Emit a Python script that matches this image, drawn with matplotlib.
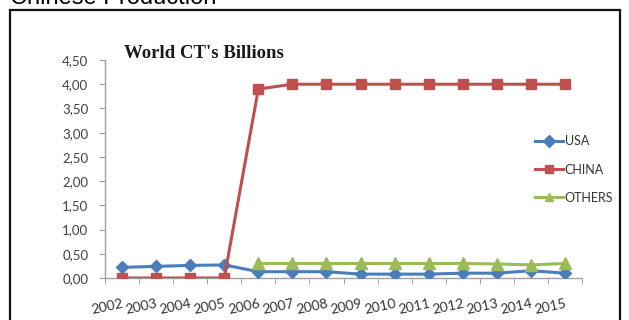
import numpy as np
import matplotlib
matplotlib.use("Agg")
import matplotlib.pyplot as plt
from matplotlib.patches import Rectangle
from matplotlib.ticker import FixedLocator, FuncFormatter

years = ["2002", "2003", "2004", "2005", "2006", "2007", "2008",
         "2009", "2010", "2011", "2012", "2013", "2014", "2015"]
usa = [0.22, 0.24, 0.26, 0.27, 0.13, 0.13, 0.13, 0.08, 0.08, 0.08, 0.10, 0.10, 0.15, 0.10]
china = [0.0, 0.0, 0.0, 0.0, 3.90, 4.00, 4.00, 4.00, 4.00, 4.00, 4.00, 4.00, 4.00, 4.00]
others = [None, None, None, None, 0.30, 0.30, 0.30, 0.30, 0.30, 0.30, 0.30, 0.29, 0.27, 0.30]

W, H = 629, 320
fig = plt.figure(figsize=(W / 100, H / 100), dpi=100)
fig.patch.set_facecolor("white")

# outer frame, cut at the bottom edge
fig.patches.append(Rectangle((10 / W, -0.2), 610 / W, 1 - 10 / H + 0.2,
                             transform=fig.transFigure, fill=False,
                             edgecolor="#111111", linewidth=1.6))
fig.text(10 / W, 1 - 4 / H, "Chinese Production", fontsize=17,
         family="Liberation Sans", va="baseline", ha="left", color="black")

ax = fig.add_axes([105 / W, 1 - 278 / H, 477 / W, 218 / H])
x = np.arange(len(years))

oth = np.array([np.nan if v is None else v for v in others], dtype=float)
ax.plot(x, usa, color="#4a7ebb", lw=2.2, marker="D", ms=6.5, label="USA", zorder=3)
ax.plot(x, china, color="#c0504d", lw=2.2, marker="s", ms=7.5, label="CHINA", zorder=4)
ax.plot(x, oth, color="#9bbb59", lw=2.2, marker="^", ms=8, label="OTHERS", zorder=3)

ax.set_xlim(-0.5, len(years) - 0.5)
ax.set_ylim(0, 4.5)
ax.set_yticks(np.arange(0, 4.51, 0.5))
ax.yaxis.set_major_formatter(FuncFormatter(lambda v, p: f"{v:.2f}".replace(".", ",")))

ax.set_xticks(x)
ax.set_xticklabels(years, rotation=12, ha="right", va="top", rotation_mode="anchor")
ax.xaxis.set_minor_locator(FixedLocator(np.arange(-0.5, len(years), 1)))
ax.tick_params(axis="x", which="major", length=0, pad=14, labelsize=10, labelcolor="#333333")
ax.tick_params(axis="x", which="minor", length=4, color="#999999", direction="out")
ax.tick_params(axis="y", length=4, color="#999999", labelsize=9.5, labelcolor="#404040", pad=8)
for lab in ax.get_xticklabels() + ax.get_yticklabels():
    lab.set_family("Lato")

for s in ["top", "right"]:
    ax.spines[s].set_visible(False)
for s in ["left", "bottom"]:
    ax.spines[s].set_color("#a0a0a0")
    ax.spines[s].set_linewidth(1.0)

fig.text(124 / W, 1 - 53 / H, "World CT's Billions", fontsize=13.5, weight="bold",
         family="Liberation Serif", va="center", ha="left", color="#1a1a1a")

leg = fig.legend(loc="upper left", bbox_to_anchor=(524 / W, 1 - 124 / H),
                 frameon=False, handlelength=2.2, handletextpad=0.15,
                 labelspacing=1.3, prop={"family": "Lato", "size": 9})
for t in leg.get_texts():
    t.set_color("#333333")
for h in leg.legend_handles:
    h.set_markersize(6)

fig.savefig("out.png", dpi=100)
